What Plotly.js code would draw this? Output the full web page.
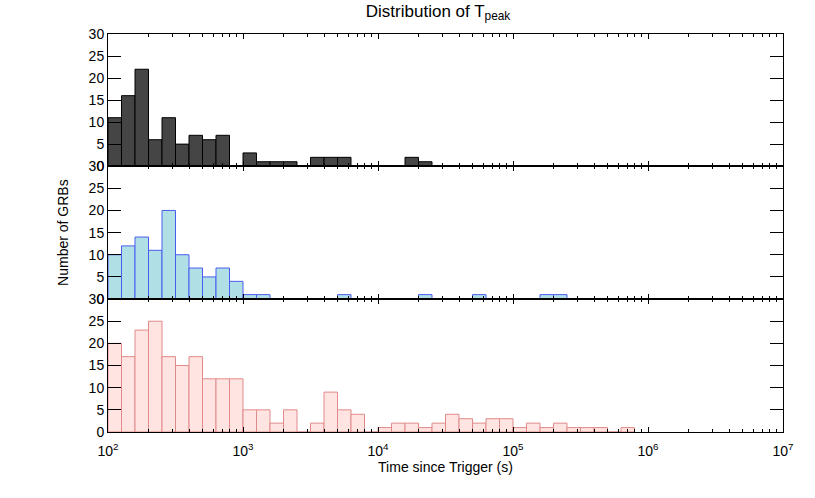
<!DOCTYPE html>
<html>
<head>
<meta charset="utf-8">
<script src="https://cdn.plot.ly/plotly-3.0.1.min.js"></script>
<style>html,body{margin:0;padding:0;background:#fff;}#chart{width:815px;height:498px;}</style>
</head>
<body>
<div id="chart"></div>
<script>
// Histogram bins: log10(T) from 2.0 in steps of 0.1 dex
const binStartLog = 2.0;
const binWidthLog = 0.1;

// Counts per bin (panel 1: top, dark)
const countsTop = [11,16,22,6,11,5,7,6,7,0,3,1,1,1,0,2,2,2,0,0,0,0,2,1];
// Counts per bin (panel 2: middle, blue)
const countsMid = [10,12,14,11,20,10,7,5,7,4,1,1,0,0,0,0,0,1,0,0,0,0,0,1,0,0,0,1,0,0,0,0,1,1];
// Counts per bin (panel 3: bottom, pink)
const countsBot = [20,17,23,25,17,15,17,12,12,12,5,5,2,5,0,2,9,5,4,0,1,2,2,1,2,4,3,2,3,3,1,2,1,2,1,1,1,0,1];

// Axis labels
const decadeExps = [2,3,4,5,6,7];
const decadeLabels = decadeExps.map(e => '10<sup>' + e + '</sup>');
const yTicks = [0,5,10,15,20,25,30];

function centers(arr){ return arr.map((_, i) => binStartLog + binWidthLog * (i + 0.5)); }

const minorVals = [];
for (let e = 2; e < 7; e++) for (let m = 2; m <= 9; m++) minorVals.push(e + Math.log10(m));

const font = {family: 'Liberation Sans, Arial, sans-serif', size: 14, color: '#000'};

function bars(counts, fill, line, xa, ya){
  return {
    type: 'bar', x: centers(counts), y: counts, width: binWidthLog,
    xaxis: xa, yaxis: ya,
    marker: {color: fill, line: {color: line, width: 1}},
    hoverinfo: 'x+y', showlegend: false
  };
}

const data = [
  bars(countsTop, '#454545', '#000000', 'x', 'y'),
  bars(countsMid, '#b0e0e6', '#4a5cf0', 'x2', 'y2'),
  bars(countsBot, '#ffe4e1', '#e08a8a', 'x3', 'y3')
];

function xaxis(anchor, showLabels, extra){
  return Object.assign({
    anchor: anchor, range: [2, 7], tickmode: 'array', tickvals: decadeExps,
    ticktext: decadeLabels, showticklabels: showLabels,
    ticks: 'inside', ticklen: 5, tickwidth: 1, tickcolor: '#000',
    ticklabelstandoff: 6,
    minor: {tickmode: 'array', tickvals: minorVals, ticks: 'inside', ticklen: 3, tickwidth: 1, tickcolor: '#000'},
    showline: true, linecolor: '#000', linewidth: 1, mirror: 'ticks',
    showgrid: false, zeroline: false, tickfont: font
  }, extra || {});
}

function yaxis(domain, extra){
  return Object.assign({
    domain: domain, range: [0, 30], tickmode: 'array', tickvals: yTicks,
    ticks: 'inside', ticklen: 13, tickwidth: 1, tickcolor: '#000',
    showline: true, linecolor: '#000', linewidth: 1, mirror: 'ticks',
    showgrid: false, zeroline: false, tickfont: font
  }, extra || {});
}

const layout = {
  width: 815, height: 498,
  margin: {l: 108, r: 32, t: 34, b: 66},
  paper_bgcolor: '#fff', plot_bgcolor: '#fff',
  bargap: 0,
  font: font,
  title: {text: 'Distribution of T<sub>peak</sub>', font: {family: font.family, size: 17, color: '#000'},
          x: 0.489, xref: 'paper', xanchor: 'center', y: 0.99, yanchor: 'top'},
  xaxis: xaxis('y', false),
  xaxis2: xaxis('y2', false, {matches: 'x'}),
  xaxis3: xaxis('y3', true, {matches: 'x', title: {text: 'Time since Trigger (s)', font: font, standoff: 2}}),
  yaxis: yaxis([0.668, 1]),
  yaxis2: yaxis([0.334, 0.668], {title: {text: 'Number of GRBs', font: font, standoff: 16}}),
  yaxis3: yaxis([0, 0.334])
};

Plotly.newPlot('chart', data, layout, {staticPlot: true});
</script>
</body>
</html>
